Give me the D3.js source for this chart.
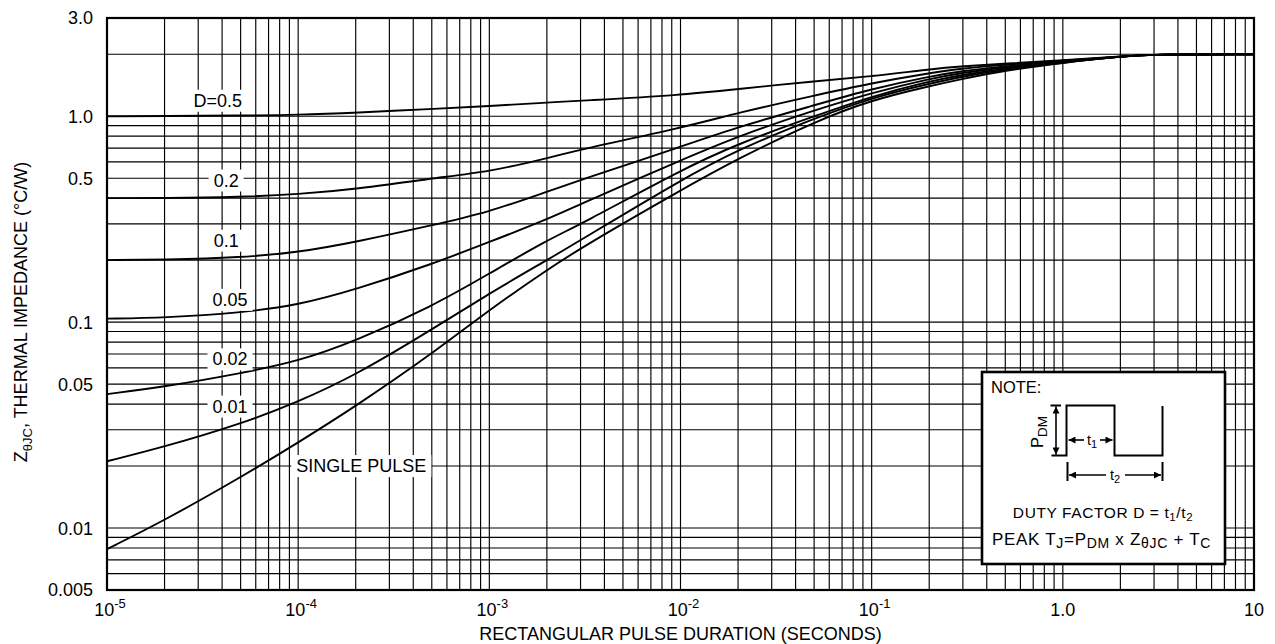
<!DOCTYPE html>
<html><head><meta charset="utf-8">
<script src="https://cdn.jsdelivr.net/npm/d3@7"></script>
<style>
body{margin:0;background:#fff}
text{font-family:"Liberation Sans",Arial,Helvetica,sans-serif;fill:#000}
</style>
</head><body>
<svg id="c" width="1275" height="644"></svg>
<script>
// ---------- data ----------
const times = [1e-5, 2e-5, 5e-5, 1e-4, 2e-4, 5e-4, 1e-3, 2e-3, 3e-3, 1e-2, 2e-2, 5e-2, 1e-1, 2e-1, 3e-1, 5e-1, 1, 2, 3, 10];
const zD050  = [1.0, 1.002, 1.008, 1.015, 1.04, 1.085, 1.12, 1.165, 1.19, 1.265, 1.355, 1.48, 1.56, 1.69, 1.75, 1.80, 1.87, 1.95, 2.0, 2.0];
const zD020  = [0.40, 0.40, 0.405, 0.418, 0.442, 0.50, 0.537, 0.625, 0.69, 0.875, 1.04, 1.26, 1.45, 1.62, 1.71, 1.78, 1.86, 1.95, 2.0, 2.0];
const zD010  = [0.20, 0.201, 0.206, 0.218, 0.245, 0.295, 0.343, 0.43, 0.49, 0.71, 0.887, 1.13, 1.36, 1.56, 1.66, 1.75, 1.85, 1.95, 2.0, 2.0];
const zD005  = [0.104, 0.105, 0.111, 0.121, 0.144, 0.191, 0.245, 0.315, 0.375, 0.611, 0.80, 1.07, 1.30, 1.52, 1.63, 1.73, 1.84, 1.95, 2.0, 2.0];
const zD002  = [0.0447, 0.0485, 0.0564, 0.0645, 0.081, 0.119, 0.172, 0.25, 0.298, 0.547, 0.736, 1.0, 1.25, 1.48, 1.59, 1.71, 1.83, 1.95, 2.0, 2.0];
const zD001  = [0.0211, 0.0248, 0.032, 0.041, 0.0553, 0.092, 0.138, 0.20, 0.25, 0.489, 0.689, 0.975, 1.23, 1.44, 1.56, 1.69, 1.82, 1.95, 2.0, 2.0];
const zSingle= [0.0079, 0.0109, 0.0176, 0.026, 0.039, 0.070, 0.115, 0.179, 0.229, 0.437, 0.623, 0.94, 1.20, 1.40, 1.52, 1.67, 1.82, 1.95, 2.0, 2.0];
const seriesNames = ["D=0.5", "0.2", "0.1", "0.05", "0.02", "0.01", "SINGLE PULSE"];

const yTickValues = [3.0, 1.0, 0.5, 0.1, 0.05, 0.01, 0.005];
const yTickLabels = ["3.0", "1.0", "0.5", "0.1", "0.05", "0.01", "0.005"];
const xTickValues = [1e-5, 1e-4, 1e-3, 1e-2, 1e-1, 1, 10];
const xTickBase   = ["10", "10", "10", "10", "10", "1.0", "10"];
const xTickExp    = ["-5", "-4", "-3", "-2", "-1", "", ""];
const yGridValues = [2, 1, 0.9, 0.8, 0.7, 0.6, 0.5, 0.4, 0.3, 0.2, 0.1, 0.09, 0.08, 0.07, 0.06, 0.05, 0.04, 0.03, 0.02, 0.01, 0.009, 0.008, 0.007, 0.006];
const xTitle = "RECTANGULAR PULSE DURATION (SECONDS)";

// ---------- layout ----------
const W = 1275, H = 644;
const L = 107, R = 1254, T = 18, B = 590;
const svg = d3.select("#c");
svg.append("rect").attr("width", W).attr("height", H).attr("fill", "#fff");

const x = d3.scaleLog().domain([1e-5, 10]).range([L, R]);
const y = d3.scaleLog().domain([0.005, 3.0]).range([B, T]);

// gridlines
const xGrid = [];
for (let d = -5; d <= 0; d++) for (let m = 1; m <= 9; m++) {
  const v = m * Math.pow(10, d);
  if (v > 1e-5 * 1.0001) xGrid.push(v);
}
const g = svg.append("g").attr("stroke", "#000").attr("stroke-width", 1.15);
g.selectAll("line.v").data(xGrid).join("line")
  .attr("x1", d => x(d)).attr("x2", d => x(d))
  .attr("y1", T).attr("y2", B);
g.selectAll("line.h").data(yGridValues).join("line")
  .attr("y1", d => y(d)).attr("y2", d => y(d))
  .attr("x1", L).attr("x2", R);

// curves
const allSeries = [zD050, zD020, zD010, zD005, zD002, zD001, zSingle];
const line = d3.line().x(d => x(d[0])).y(d => y(d[1])).curve(d3.curveBasis);
svg.append("g").selectAll("path").data(allSeries).join("path")
  .attr("d", s => line(times.map((t, i) => [t, s[i]])))
  .attr("fill", "none").attr("stroke", "#000").attr("stroke-width", 1.9);

// curve labels (anchor in data units)
const labelAt = [[3.8e-5, 1.196], [4.2e-5, 0.49], [4.2e-5, 0.25], [4.4e-5, 0.129], [4.4e-5, 0.0663], [4.4e-5, 0.0391], [2.14e-4, 0.0201]];
const lg = svg.append("g");
seriesNames.forEach((name, i) => {
  const gg = lg.append("g");
  const txt = gg.append("text").attr("x", x(labelAt[i][0])).attr("y", y(labelAt[i][1]))
    .attr("text-anchor", "middle").attr("dy", "0.36em").attr("font-size", 18).text(name);
  const bb = txt.node().getBBox();
  gg.insert("rect", "text").attr("x", bb.x - 5).attr("y", bb.y - 1).attr("width", bb.width + 10).attr("height", bb.height + 2).attr("fill", "#fff");
});

// frame
svg.append("rect").attr("x", L).attr("y", T).attr("width", R - L).attr("height", B - T)
  .attr("fill", "none").attr("stroke", "#000").attr("stroke-width", 2.2);

// y tick labels
svg.append("g").selectAll("text").data(yTickValues).join("text")
  .attr("x", 93).attr("y", d => y(d)).attr("dy", "0.36em").attr("text-anchor", "end")
  .attr("font-size", 18).text((d, i) => yTickLabels[i]);

// x tick labels
xTickValues.forEach((v, i) => {
  const t = svg.append("text").attr("x", x(v) + (xTickExp[i] ? 3 : 0)).attr("y", 616).attr("text-anchor", "middle").attr("font-size", 18);
  t.append("tspan").text(xTickBase[i]);
  if (xTickExp[i]) t.append("tspan").attr("font-size", 13).attr("dy", -8).text(xTickExp[i]);
});

// axis titles
svg.append("text").attr("x", (L + R) / 2).attr("y", 640).attr("text-anchor", "middle").attr("font-size", 18).text(xTitle);
const yt = svg.append("text").attr("transform", "translate(27,312) rotate(-90)").attr("text-anchor", "middle").attr("font-size", 18);
yt.append("tspan").text("Z");
yt.append("tspan").attr("font-size", 13).attr("dy", 5).text("\u03B8JC");
yt.append("tspan").attr("dy", -5).text(", THERMAL IMPEDANCE (\u00B0C/W)");

// ---------- NOTE inset ----------
const defs = svg.append("defs");
defs.append("marker").attr("id", "ah").attr("viewBox", "0 0 10 10").attr("refX", 10).attr("refY", 5)
  .attr("markerWidth", 9).attr("markerHeight", 7).attr("markerUnits", "userSpaceOnUse").attr("orient", "auto-start-reverse")
  .append("path").attr("d", "M0,0 L10,5 L0,10 Z").attr("fill", "#000");

const nb = svg.append("g");
nb.append("rect").attr("x", 982).attr("y", 372).attr("width", 243).attr("height", 192)
  .attr("fill", "#fff").attr("stroke", "#000").attr("stroke-width", 2.6);
nb.append("text").attr("x", 991).attr("y", 393).attr("font-size", 16.5).text("NOTE:");
// waveform
nb.append("path").attr("d", "M1051.5,455.5 H1066.5 V405.5 H1114.5 V455.5 H1162.5 V406")
  .attr("fill", "none").attr("stroke", "#000").attr("stroke-width", 2);
nb.append("line").attr("x1", 1050.5).attr("x2", 1061).attr("y1", 405.5).attr("y2", 405.5).attr("stroke", "#000").attr("stroke-width", 2);
nb.append("line").attr("x1", 1056).attr("x2", 1056).attr("y1", 406.5).attr("y2", 454.5)
  .attr("stroke", "#000").attr("stroke-width", 1.6).attr("marker-start", "url(#ah)").attr("marker-end", "url(#ah)");
const pdm = nb.append("text").attr("transform", "translate(1043,432) rotate(-90)").attr("text-anchor", "middle").attr("font-size", 16.5);
pdm.append("tspan").text("P");
pdm.append("tspan").attr("font-size", 13.5).attr("dy", 4).text("DM");
// t1
nb.append("line").attr("x1", 1068.5).attr("x2", 1084).attr("y1", 440).attr("y2", 440).attr("stroke", "#000").attr("stroke-width", 1.6).attr("marker-start", "url(#ah)");
nb.append("line").attr("x1", 1100).attr("x2", 1112.5).attr("y1", 440).attr("y2", 440).attr("stroke", "#000").attr("stroke-width", 1.6).attr("marker-end", "url(#ah)");
const t1 = nb.append("text").attr("x", 1087).attr("y", 445).attr("font-size", 14.5);
t1.append("tspan").text("t");
t1.append("tspan").attr("font-size", 11).attr("dy", 3).text("1");
// t2
nb.append("line").attr("x1", 1067.5).attr("x2", 1067.5).attr("y1", 462).attr("y2", 481).attr("stroke", "#000").attr("stroke-width", 2);
nb.append("line").attr("x1", 1162.5).attr("x2", 1162.5).attr("y1", 462).attr("y2", 481).attr("stroke", "#000").attr("stroke-width", 2);
nb.append("line").attr("x1", 1069).attr("x2", 1106).attr("y1", 475).attr("y2", 475).attr("stroke", "#000").attr("stroke-width", 1.6).attr("marker-start", "url(#ah)");
nb.append("line").attr("x1", 1125).attr("x2", 1161).attr("y1", 475).attr("y2", 475).attr("stroke", "#000").attr("stroke-width", 1.6).attr("marker-end", "url(#ah)");
const t2 = nb.append("text").attr("x", 1110).attr("y", 480).attr("font-size", 14.5);
t2.append("tspan").text("t");
t2.append("tspan").attr("font-size", 11).attr("dy", 3).text("2");
// duty factor
const df = nb.append("text").attr("x", 1103).attr("y", 518).attr("text-anchor", "middle").attr("font-size", 15.5).attr("letter-spacing", 0.6);
df.append("tspan").text("DUTY FACTOR D = t");
df.append("tspan").attr("font-size", 11.5).attr("dy", 3).text("1");
df.append("tspan").attr("dy", -3).text("/t");
df.append("tspan").attr("font-size", 11.5).attr("dy", 3).text("2");
// peak
const pk = nb.append("text").attr("x", 992).attr("y", 545).attr("font-size", 17).attr("letter-spacing", 0.7);
pk.append("tspan").text("PEAK T");
pk.append("tspan").attr("font-size", 14).attr("dy", 3).text("J");
pk.append("tspan").attr("dy", -3).text("=P");
pk.append("tspan").attr("font-size", 14).attr("dy", 3).text("DM");
pk.append("tspan").attr("dy", -3).text(" x Z");
pk.append("tspan").attr("font-size", 14).attr("dy", 3).text("\u03B8JC");
pk.append("tspan").attr("dy", -3).text(" + T");
pk.append("tspan").attr("font-size", 14).attr("dy", 3).text("C");
</script>
</body></html>
